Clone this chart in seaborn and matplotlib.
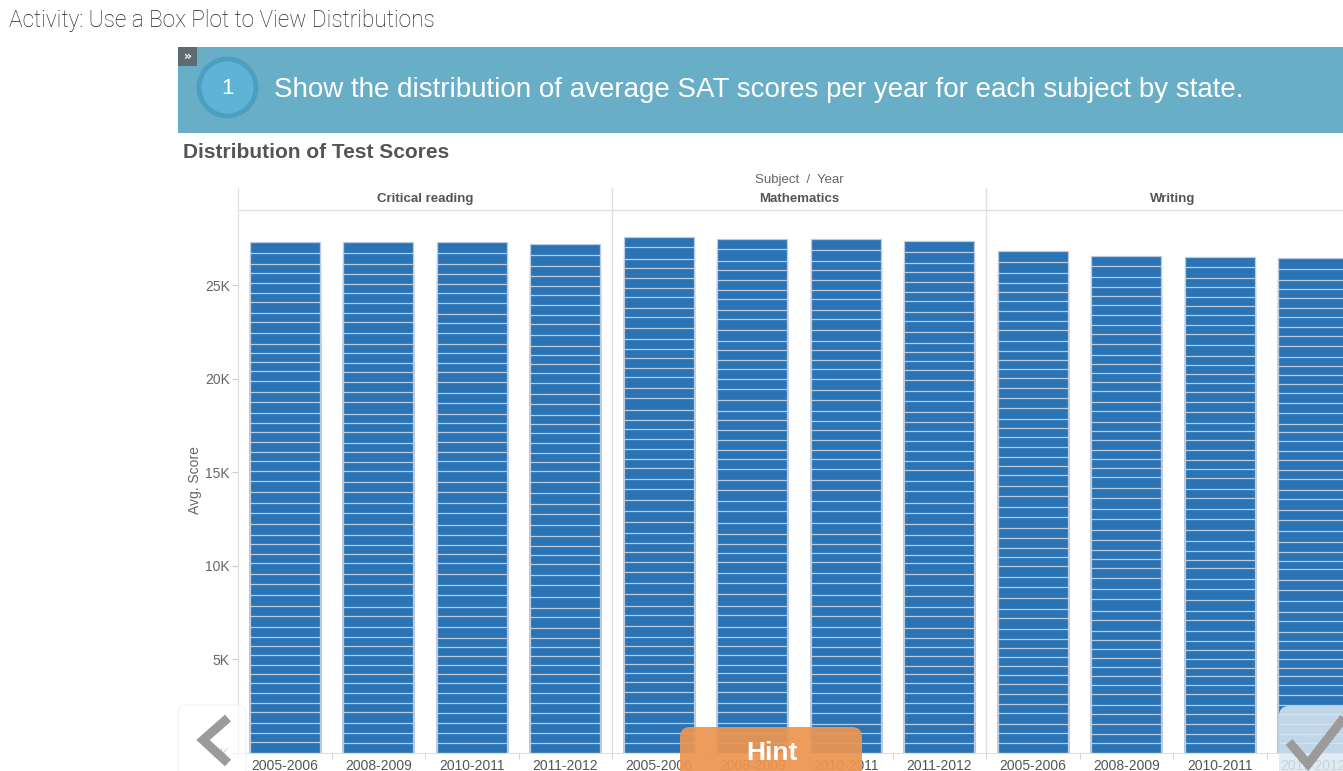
import numpy as np
import pandas as pd
import seaborn as sns
import matplotlib.pyplot as plt
from matplotlib.patches import FancyBboxPatch, Rectangle, Circle

# === data: average SAT score per state, stacked per subject / year ===
states = ['AL', 'AK', 'AZ', 'AR', 'CA', 'CO', 'CT', 'DE', 'DC', 'FL',
          'GA', 'HI', 'ID', 'IL', 'IN', 'IA', 'KS', 'KY', 'LA', 'ME',
          'MD', 'MA', 'MI', 'MN', 'MS', 'MO', 'MT', 'NE', 'NV', 'NH',
          'NJ', 'NM', 'NY', 'NC', 'ND', 'OH', 'OK', 'OR', 'PA', 'RI',
          'SC', 'SD', 'TN', 'TX', 'UT', 'VT', 'VA', 'WA', 'WV', 'WI', 'WY']
subjects = ['Critical reading', 'Mathematics', 'Writing']
years = ['2005-2006', '2008-2009', '2010-2011', '2011-2012']

reading_0506 = [565, 517, 521, 574, 495, 558, 512, 495, 487, 496, 494, 482, 543, 591, 498, 603, 582, 562, 570, 501,
                503, 513, 568, 591, 562, 587, 538, 576, 498, 520, 496, 557, 493, 495, 610, 535, 576, 523, 493, 495,
                487, 590, 573, 491, 560, 513, 512, 527, 519, 588, 567]
reading_0809 = [557, 517, 521, 574, 495, 568, 512, 495, 487, 497, 490, 482, 543, 591, 498, 610, 580, 562, 570, 468,
                503, 513, 581, 595, 562, 587, 538, 576, 498, 520, 496, 557, 485, 495, 610, 537, 576, 523, 493, 495,
                487, 590, 573, 488, 560, 513, 512, 527, 519, 588, 588]
reading_1011 = [557, 515, 517, 574, 495, 568, 512, 495, 469, 497, 490, 479, 543, 599, 498, 610, 580, 576, 570, 468,
                503, 513, 581, 595, 566, 593, 538, 585, 498, 520, 496, 557, 485, 495, 586, 537, 576, 523, 493, 495,
                487, 584, 576, 488, 563, 513, 512, 527, 519, 595, 588]
reading_1112 = [557, 515, 517, 568, 495, 568, 504, 489, 469, 487, 490, 469, 542, 599, 496, 596, 590, 576, 563, 467,
                503, 513, 594, 592, 566, 593, 539, 585, 494, 520, 495, 551, 485, 491, 586, 537, 568, 523, 491, 495,
                481, 584, 576, 474, 563, 513, 510, 520, 512, 595, 570]

math_0506 = [561, 517, 528, 568, 516, 565, 516, 496, 462, 497, 496, 499, 542, 609, 509, 613, 590, 571, 571, 501,
             509, 524, 583, 600, 556, 591, 545, 588, 505, 522, 514, 545, 510, 513, 617, 544, 574, 529, 499, 502,
             502, 604, 569, 504, 563, 517, 511, 533, 511, 600, 550]
math_0809 = [552, 517, 528, 568, 516, 575, 516, 496, 451, 498, 493, 499, 542, 609, 509, 615, 589, 571, 566, 467,
             509, 524, 603, 600, 556, 591, 545, 583, 498, 522, 514, 541, 510, 513, 594, 544, 569, 529, 499, 502,
             502, 587, 569, 502, 559, 517, 511, 533, 501, 600, 567]
math_1011 = [535, 510, 524, 568, 513, 575, 516, 496, 457, 498, 493, 500, 542, 617, 509, 615, 589, 575, 566, 467,
             509, 521, 603, 608, 556, 595, 545, 583, 498, 522, 513, 541, 499, 508, 612, 544, 569, 521, 499, 502,
             502, 591, 569, 499, 559, 517, 509, 528, 501, 603, 567]
math_1112 = [535, 510, 524, 570, 513, 568, 506, 490, 457, 492, 487, 496, 542, 617, 500, 606, 590, 575, 555, 466,
             509, 521, 603, 608, 544, 595, 545, 589, 500, 522, 513, 544, 499, 508, 612, 544, 564, 521, 496, 502,
             481, 591, 569, 498, 556, 517, 509, 528, 500, 603, 569]

writing_0506 = [554, 493, 502, 567, 491, 548, 510, 484, 482, 481, 485, 480, 530, 586, 489, 591, 571, 558, 567, 491,
                499, 510, 557, 581, 552, 579, 525, 567, 489, 511, 497, 541, 485, 484, 593, 521, 558, 502, 483, 489,
                478, 576, 563, 480, 547, 501, 499, 511, 509, 579, 575]
writing_0809 = [544, 487, 498, 567, 491, 556, 509, 480, 457, 480, 477, 468, 530, 583, 486, 600, 566, 559, 558, 456,
                499, 510, 565, 590, 545, 577, 525, 567, 478, 511, 496, 530, 476, 474, 565, 521, 551, 502, 479, 486,
                476, 565, 563, 472, 541, 501, 494, 508, 509, 583, 559]
writing_1011 = [544, 487, 498, 555, 488, 556, 509, 480, 448, 480, 477, 468, 518, 591, 486, 600, 566, 559, 558, 456,
                491, 509, 565, 590, 545, 577, 519, 567, 478, 514, 496, 530, 476, 474, 561, 522, 551, 499, 479, 486,
                476, 574, 568, 472, 541, 495, 494, 508, 497, 583, 559]
writing_1112 = [546, 487, 494, 555, 488, 555, 504, 478, 448, 475, 475, 463, 518, 591, 476, 575, 575, 563, 553, 454,
                491, 509, 574, 585, 543, 577, 519, 575, 478, 514, 486, 530, 474, 472, 561, 522, 555, 499, 479, 486,
                462, 574, 568, 461, 539, 495, 494, 500, 497, 583, 550]

scores = {
    'Critical reading': [reading_0506, reading_0809, reading_1011, reading_1112],
    'Mathematics': [math_0506, math_0809, math_1011, math_1112],
    'Writing': [writing_0506, writing_0809, writing_1011, writing_1112],
}

# long table with running totals for the stack
rows = []
for subj in subjects:
    for yr, vals in zip(years, scores[subj]):
        for st, v, c in zip(states, vals, np.cumsum(vals)):
            rows.append({'col': subj + '|' + yr, 'state': st, 'score': v, 'top': c})
df = pd.DataFrame(rows)
order = [s + '|' + y for s in subjects for y in years]

# colours
bar_blue = '#2a74b6'
seg_line = '#bccadb'
grid_grey = '#dedede'
text_grey = '#666666'

W, H = 1343, 771
fig = plt.figure(figsize=(W / 100, H / 100), dpi=100)
fig.patch.set_facecolor('white')

# chart pane: left edge x=238, baseline y=753, top y=188 (header included)
ax = fig.add_axes([238 / W, (H - 753) / H, 1122 / W, 565 / H])
px_per_k = 18.715
ax.set_ylim(0, 565 / px_per_k * 1000)
ax.set_xlim(-0.5, 11.5)

# stacked bars: draw tallest running total first so every state segment shows
for st in states[::-1]:
    sns.barplot(data=df[df['state'] == st], x='col', y='top', order=order,
                color=bar_blue, saturation=1, width=0.75, errorbar=None,
                edgecolor=seg_line, linewidth=0.9, ax=ax)

ax.set_xlabel('')
ax.set_ylabel('')
for side in ['top', 'right']:
    ax.spines[side].set_visible(False)
ax.spines['left'].set_color(grid_grey)
ax.spines['bottom'].set_color(grid_grey)

ax.set_yticks(np.arange(0, 25001, 5000))
ax.set_yticklabels([f'{v // 1000}K' for v in range(0, 25001, 5000)])
ax.tick_params(axis='y', length=4, color='#cccccc', labelcolor=text_grey, labelsize=10,
               pad=2, labelfontfamily='Liberation Sans')
ax.set_xticks(range(12))
ax.set_xticklabels(years * 3)
ax.tick_params(axis='x', length=0, labelcolor='#555555', labelsize=10, pad=4,
               labelfontfamily='Liberation Sans')
ax.set_xticks(np.arange(-0.5, 12, 1), minor=True)
ax.tick_params(axis='x', which='minor', length=4, color='#cccccc')

# facet separators and header
for xs in [3.5, 7.5]:
    ax.axvline(xs, color=grid_grey, lw=1)
hdr = (753 - 210) / 565
ax.plot([0, 1], [hdr, hdr], transform=ax.transAxes, color=grid_grey, lw=1)
xt = ax.get_xaxis_transform()
for i, subj in enumerate(subjects):
    ax.text(4 * i + 1.5, (753 - 199) / 565, subj, transform=xt, ha='center', va='center',
            fontsize=9.5, weight='bold', color='#555555', family='Liberation Sans')
ax.text(5.5, (753 - 180) / 565, 'Subject  /  Year', transform=xt, ha='center', va='center',
        fontsize=9.5, color=text_grey, family='Liberation Sans', clip_on=False)

fig.text(195 / W, 1 - 480 / H, 'Avg. Score', rotation=90, ha='center', va='center',
         fontsize=10, color=text_grey, family='Liberation Sans')

# overlay layer in pixel coordinates
ov = fig.add_axes([0, 0, 1, 1])
ov.set_xlim(0, W)
ov.set_ylim(H, 0)
ov.axis('off')
ov.patch.set_alpha(0)

ov.text(9, 20, 'Activity: Use a Box Plot to View Distributions', ha='left', va='center',
        fontsize=16.3, color='#222222', family='Roboto', weight='light')

ov.add_patch(Rectangle((178, 47), W - 178, 86, fc='#68aec6', ec='none'))
ov.add_patch(Rectangle((178, 47), 19, 19, fc='#5f6b6e', ec='none'))
ov.text(187.5, 56, '»', ha='center', va='center', color='white', fontsize=9, weight='bold')
ov.add_patch(Circle((227.5, 87.5), 28.5, fc='#5db4d6', ec='#4b9fc0', lw=3.5))
ov.text(227.5, 88, '1', ha='center', va='center', color='white', fontsize=16,
        family='Liberation Sans')
ov.text(274, 90, 'Show the distribution of average SAT scores per year for each subject by state.',
        ha='left', va='center', color='white', fontsize=20, family='Liberation Sans')

ov.text(183, 152, 'Distribution of Test Scores', ha='left', va='center', fontsize=15,
        weight='bold', color='#555555', family='Liberation Sans')

# bottom navigation widgets
ov.add_patch(FancyBboxPatch((178, 705), 68, 90, boxstyle='round,pad=0,rounding_size=8',
                            fc='white', ec='#f0f0f0', lw=1, alpha=0.7))
ov.plot([228, 203, 228], [718, 740, 763], color='#9b9b9b', lw=6.5,
        solid_capstyle='butt', solid_joinstyle='miter')
ov.add_patch(FancyBboxPatch((680, 727), 182, 70, boxstyle='round,pad=0,rounding_size=10',
                            fc='#ec9550', ec='none', alpha=0.93))
ov.text(772, 753, 'Hint', ha='center', va='center', color='white', fontsize=19, weight='bold',
        family='Liberation Sans')
ov.add_patch(FancyBboxPatch((1279, 706), 100, 90, boxstyle='round,pad=0,rounding_size=10',
                            fc='#dbe8f3', ec='none', alpha=0.85))
ov.plot([1289, 1308, 1350], [742, 764, 710], color='#9b9b9b', lw=6.5,
        solid_capstyle='butt', solid_joinstyle='miter')

fig.savefig('out.png', dpi=100)
